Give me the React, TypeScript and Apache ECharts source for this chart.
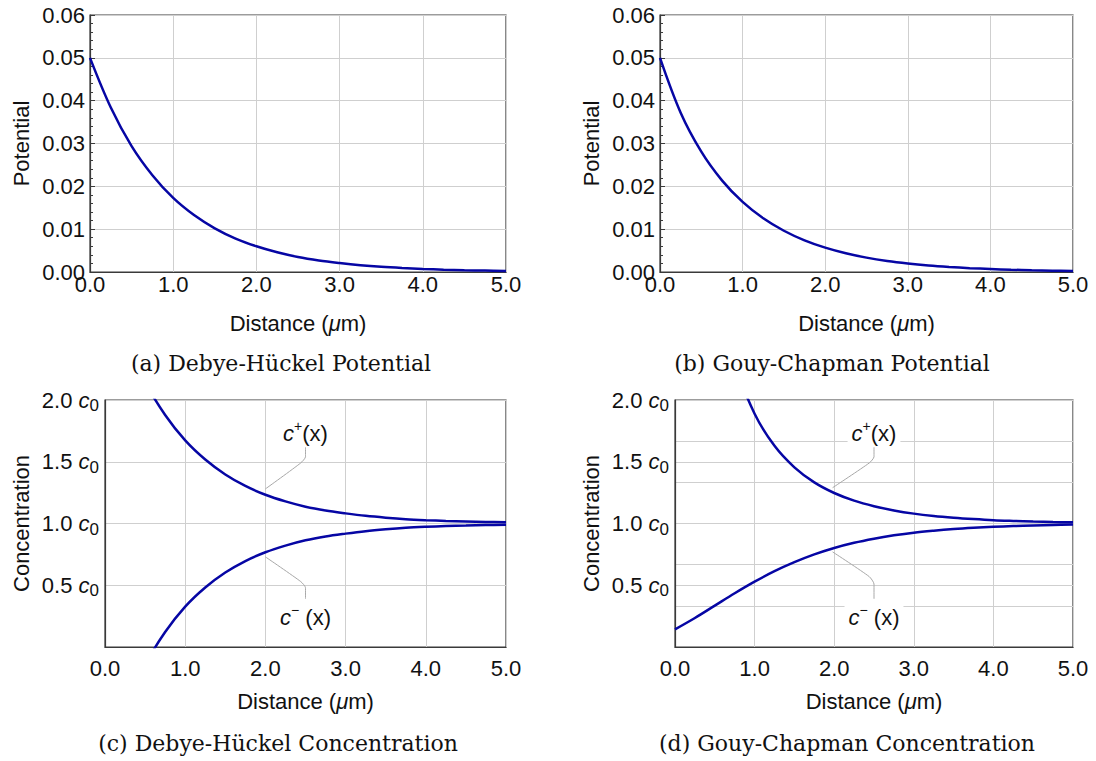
import React, { useEffect, useRef } from "react";
import * as echarts from "echarts";

// distance (µm)
const distance = [0, 0.25, 0.5, 0.75, 1.0, 1.25, 1.5, 1.75, 2.0, 2.25, 2.5, 2.75, 3.0, 3.25, 3.5, 3.75, 4.0, 4.25, 4.5, 4.75, 5.0];

// (a) Debye-Hückel potential
const dhPotential = [0.05, 0.0384, 0.0294, 0.0226, 0.0173, 0.0133, 0.0102, 0.0078, 0.006, 0.0046, 0.0035, 0.0027, 0.0021, 0.0016, 0.00122, 0.00094, 0.00072, 0.00055, 0.00042, 0.00033, 0.00025];
// (b) Gouy-Chapman potential
const gcPotential = [0.05, 0.0372, 0.0281, 0.0214, 0.01636, 0.01254, 0.00963, 0.00739, 0.00568, 0.00437, 0.00336, 0.00258, 0.00199, 0.00153, 0.00118, 0.0009, 0.0007, 0.00053, 0.00041, 0.00032, 0.00024];
// (c) Debye-Hückel concentrations (units of c0)
const dhCPlus = [2.946, 2.494, 2.144, 1.879, 1.673, 1.518, 1.397, 1.304, 1.233, 1.179, 1.136, 1.105, 1.082, 1.062, 1.047, 1.035, 1.027, 1.021, 1.017, 1.013, 1.01];
const dhCMinus = [-0.946, -0.494, -0.144, 0.121, 0.327, 0.482, 0.603, 0.696, 0.767, 0.821, 0.864, 0.895, 0.918, 0.938, 0.953, 0.965, 0.973, 0.979, 0.983, 0.987, 0.99];
// (d) Gouy-Chapman concentrations (units of c0)
const gcCPlus = [6.99, 4.25, 2.985, 2.3, 1.889, 1.629, 1.455, 1.333, 1.247, 1.185, 1.14, 1.106, 1.08, 1.061, 1.047, 1.036, 1.027, 1.021, 1.016, 1.012, 1.01];
const gcCMinus = [0.143, 0.235, 0.335, 0.435, 0.529, 0.614, 0.687, 0.75, 0.802, 0.844, 0.877, 0.904, 0.926, 0.942, 0.955, 0.965, 0.973, 0.979, 0.984, 0.988, 0.991];

// annotation leader lines (data coordinates)
const dhPlusLeader = [[2.0, 1.28], [2.44, 1.49], [2.5, 1.54], [2.5, 1.62]];
const dhMinusLeader = [[2.0, 0.73], [2.44, 0.53], [2.5, 0.48], [2.5, 0.39]];
const gcPlusLeader = [[1.98, 1.29], [2.44, 1.49], [2.5, 1.54], [2.5, 1.62]];
const gcMinusLeader = [[1.98, 0.77], [2.44, 0.57], [2.5, 0.51], [2.5, 0.39]];
const plusLabelPos = [2.5, 1.73];
const minusLabelPos = [2.5, 0.24];

const captions = [
  "(a) Debye-Hückel Potential",
  "(b) Gouy-Chapman Potential",
  "(c) Debye-Hückel Concentration",
  "(d) Gouy-Chapman Concentration",
];
const xAxisTitle = "Distance ({i|μ}m)";
const potentialTitle = "Potential";
const concTitle = "Concentration";

const SANS = "Liberation Sans, Arial, sans-serif";
const BLUE = "#0606a4";
const GRID_C = "#cfcfcf";
const AXIS_C = "#3a3a3a";
const TXT = "#111111";

export default function App() {
  const ref = useRef<HTMLDivElement>(null);
  useEffect(() => {
    if (!ref.current) return;
    const chart = echarts.init(ref.current, undefined, { renderer: "svg" });
    const pairs = (ys: number[]) => distance.map((x, i) => [x, ys[i]]);

    const grids = [
      { left: 90, top: 15, width: 416, height: 257 },
      { left: 660, top: 15, width: 413, height: 257 },
      { left: 105, top: 400, width: 401, height: 247 },
      { left: 675, top: 400, width: 398, height: 247 },
    ].map((g) => ({ ...g, show: true, borderColor: AXIS_C, borderWidth: 1.2, backgroundColor: "transparent" }));

    const xAxis = [0, 1, 2, 3].map((gi) => ({
      type: "value",
      gridIndex: gi,
      min: 0,
      max: 5,
      interval: 1,
      axisLine: { show: true, lineStyle: { color: AXIS_C, width: 1.2 } },
      axisTick: { show: false },
      splitLine: { show: true, lineStyle: { color: GRID_C, width: 1 } },
      axisLabel: {
        formatter: (v: number) => v.toFixed(1),
        fontSize: 22,
        fontFamily: SANS,
        color: TXT,
        margin: gi < 2 ? 1 : 10,
        showMinLabel: true,
        showMaxLabel: true,
      },
      name: xAxisTitle,
      nameLocation: "middle",
      nameGap: gi < 2 ? 40 : 43,
      nameTextStyle: {
        fontSize: 22,
        fontFamily: SANS,
        color: TXT,
        rich: { i: { fontStyle: "italic", fontSize: 22, fontFamily: SANS, color: TXT } },
      },
    }));

    const potY = (gi: number) => ({
      type: "value",
      gridIndex: gi,
      min: 0,
      max: 0.06,
      interval: 0.01,
      axisLine: { show: true, lineStyle: { color: AXIS_C, width: 1.2 } },
      axisTick: { show: true, inside: true, length: 5, lineStyle: { color: AXIS_C } },
      minorTick: { show: true, splitNumber: 5, length: 3, lineStyle: { color: AXIS_C } },
      splitLine: { show: true, lineStyle: { color: GRID_C, width: 1 } },
      axisLabel: {
        formatter: (v: number) => v.toFixed(2),
        fontSize: 22,
        fontFamily: SANS,
        color: TXT,
        margin: 5,
      },
      name: potentialTitle,
      nameLocation: "middle",
      nameGap: 58,
      nameTextStyle: { fontSize: 22, fontFamily: SANS, color: TXT },
    });

    const concY = (gi: number) => ({
      type: "value",
      gridIndex: gi,
      min: 0,
      max: 2,
      interval: 0.5,
      axisLine: { show: true, lineStyle: { color: AXIS_C, width: 1.2 } },
      axisTick: { show: false },
      splitLine: { show: true, lineStyle: { color: GRID_C, width: 1 } },
      axisLabel: {
        formatter: (v: number) => (v === 0 ? "" : `{n|${v.toFixed(1)} }{i|c}{s|0}`),
        margin: 6,
        rich: {
          n: { fontSize: 22, fontFamily: SANS, color: TXT, lineHeight: 28, verticalAlign: "middle" },
          i: { fontSize: 22, fontFamily: SANS, fontStyle: "italic", color: TXT, lineHeight: 28, verticalAlign: "middle" },
          s: { fontSize: 17, fontFamily: SANS, color: TXT, lineHeight: 28, verticalAlign: "bottom" },
        },
      },
      name: concTitle,
      nameLocation: "middle",
      nameGap: 73,
      nameTextStyle: { fontSize: 22, fontFamily: SANS, color: TXT },
    });

    const thirdsY = {
      type: "value",
      gridIndex: 3,
      min: 0,
      max: 2,
      interval: 1 / 3,
      position: "right",
      axisLine: { show: false },
      axisTick: { show: false },
      axisLabel: { show: false },
      splitLine: { show: true, lineStyle: { color: GRID_C, width: 1 } },
    };

    const curve = (xi: number, yi: number, ys: number[]) => ({
      type: "line",
      xAxisIndex: xi,
      yAxisIndex: yi,
      data: pairs(ys),
      showSymbol: false,
      symbol: "none",
      smooth: 0.35,
      clip: true,
      lineStyle: { color: BLUE, width: 2.5 },
      z: 5,
    });
    const leader = (xi: number, yi: number, pts: number[][]) => ({
      type: "line",
      xAxisIndex: xi,
      yAxisIndex: yi,
      data: pts,
      symbol: "none",
      smooth: 0.2,
      lineStyle: { color: "#a8a8a8", width: 1 },
      z: 4,
    });
    const labelRich = {
      i: { fontSize: 22, fontFamily: SANS, fontStyle: "italic", color: TXT, lineHeight: 28, verticalAlign: "middle" },
      p: { fontSize: 14, fontFamily: SANS, color: TXT, lineHeight: 28, verticalAlign: "top" },
      n: { fontSize: 22, fontFamily: SANS, color: TXT, lineHeight: 28, verticalAlign: "middle" },
    };
    const tag = (xi: number, yi: number, pos: number[], text: string) => ({
      type: "scatter",
      xAxisIndex: xi,
      yAxisIndex: yi,
      data: [pos],
      symbolSize: 0,
      silent: true,
      itemStyle: { opacity: 1 },
      label: {
        show: true,
        position: "inside",
        formatter: text,
        color: TXT,
        opacity: 1,
        backgroundColor: "#ffffff",
        padding: [0, 4],
        rich: labelRich,
      },
      z: 6,
    });

    const capPos = [
      [281, 363],
      [832, 363],
      [278, 743],
      [847, 743],
    ];

    chart.setOption({
      animation: false,
      backgroundColor: "#ffffff",
      grid: grids,
      xAxis,
      yAxis: [potY(0), potY(1), concY(2), concY(3), thirdsY],
      series: [
        curve(0, 0, dhPotential),
        curve(1, 1, gcPotential),
        curve(2, 2, dhCPlus),
        curve(2, 2, dhCMinus),
        curve(3, 3, gcCPlus),
        curve(3, 3, gcCMinus),
        leader(2, 2, dhPlusLeader),
        leader(2, 2, dhMinusLeader),
        leader(3, 3, gcPlusLeader),
        leader(3, 3, gcMinusLeader),
        tag(2, 2, plusLabelPos, "{i|c}{p|+}{n|(x)}"),
        tag(2, 2, minusLabelPos, "{i|c}{p|−}{n| (x)}"),
        tag(3, 3, plusLabelPos, "{i|c}{p|+}{n|(x)}"),
        tag(3, 3, minusLabelPos, "{i|c}{p|−}{n| (x)}"),
      ],
      graphic: captions.map((c, i) => ({
        type: "text",
        x: capPos[i][0],
        y: capPos[i][1],
        style: {
          text: c,
          font: '22px "DejaVu Serif", serif',
          fill: TXT,
          align: "center",
          verticalAlign: "middle",
        },
      })),
    });
    return () => chart.dispose();
  }, []);

  return (
    <div
      ref={ref}
      style={{ position: "absolute", left: 0, top: 0, width: 1096, height: 761, background: "#fff" }}
    />
  );
}
